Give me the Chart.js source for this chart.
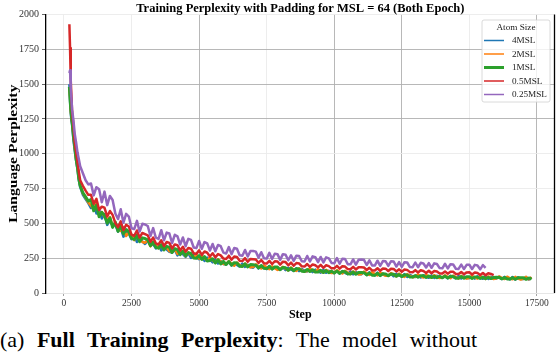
<!DOCTYPE html>
<html>
<head>
<meta charset="utf-8">
<script src="https://cdn.jsdelivr.net/npm/chart.js@4.4.1/dist/chart.umd.min.js"></script>
<style>
  html, body { margin: 0; padding: 0; background: #fff; overflow: hidden; }
  #wrap { position: relative; width: 556px; height: 322px; }
  #caption { position: absolute; left: 0; top: 327px; font-family: "Liberation Serif", "Times New Roman", serif;
             font-size: 22px; white-space: nowrap; color: #000; word-spacing: 7px; }
</style>
</head>
<body>
<div id="wrap"><canvas id="pplChart" width="556" height="322"></canvas></div>
<div id="caption">(a) <b>Full Training Perplexity</b>: The model without</div>
<script>
// ---- data ----
const seriesNames = ['4MSL', '2MSL', '1MSL', '0.5MSL', '0.25MSL'];
const seriesColors = ['#1f77b4', '#ff7f0e', '#2ca02c', '#d62728', '#9467bd'];

// logged steps: a few early ones, then one every 100 steps
const earlySteps = [200, 225, 250, 275, 300, 350, 400, 450, 500, 550, 600, 700, 800, 900];
const logEvery = 100;
const lastStep = 17300;

const xTicks = [0, 2500, 5000, 7500, 10000, 12500, 15000, 17500];
const yTicks = [0, 250, 500, 750, 1000, 1250, 1500, 1750, 2000];
// grid lines that show darker in the picture
const xDarkGrid = [5000, 10000, 12500, 17500];
const yDarkGrid = [250, 500, 1250, 1500, 1750];

const ppl4 = [1500, 1380, 1300, 1240, 1210, 1100, 1020, 950, 890, 810, 760, 705, 675, 645,
  610, 648, 571, 598, 535, 566, 489, 527, 481, 492,
  441, 470, 405, 445, 426, 387, 410, 366, 395, 371,
  352, 378, 339, 351, 320, 347, 306, 331, 312, 296,
  290, 312, 270, 298, 279, 259, 287, 252, 276, 258,
  243, 262, 230, 254, 239, 220, 241, 212, 230, 208,
  204, 226, 198, 214, 201, 190, 211, 188, 203, 186,
  182, 201, 177, 197, 181, 172, 194, 170, 186, 173,
  167, 185, 164, 181, 169, 159, 178, 157, 173, 159,
  155, 172, 150, 168, 156, 146, 166, 145, 160, 147,
  143, 160, 140, 157, 145, 135, 155, 134, 150, 137,
  134, 151, 129, 148, 136, 126, 146, 124, 140, 128,
  124, 140, 120, 138, 127, 117, 136, 115, 131, 118,
  115, 129, 111, 128, 120, 109, 127, 108, 124, 111,
  110, 124, 106, 123, 115, 105, 122, 104, 119, 107,
  107, 121, 103, 120, 112, 102, 119, 101, 116, 104,
  104, 117, 100, 116, 109, 98, 115, 97, 113, 101,
  100, 114, 97, 112];

const ppl2 = [1460, 1410, 1310, 1270, 1230, 1140, 1040, 970, 915, 830, 775, 715, 685, 650,
  628, 601, 650, 559, 582, 548, 520, 545, 478, 503,
  462, 446, 471, 409, 433, 418, 380, 409, 391, 366,
  361, 382, 335, 366, 349, 322, 340, 315, 329, 300,
  296, 317, 280, 303, 294, 265, 290, 273, 256, 275,
  247, 266, 251, 232, 255, 237, 219, 242, 226, 209,
  208, 229, 213, 196, 219, 200, 189, 212, 198, 184,
  186, 206, 190, 176, 199, 183, 171, 192, 178, 166,
  171, 189, 175, 162, 184, 168, 158, 178, 165, 154,
  158, 176, 163, 151, 171, 157, 146, 166, 154, 143,
  146, 164, 151, 140, 160, 146, 136, 155, 143, 133,
  136, 154, 141, 130, 150, 137, 126, 146, 134, 123,
  126, 143, 131, 120, 140, 127, 116, 136, 124, 113,
  117, 133, 121, 111, 130, 119, 109, 128, 116, 107,
  112, 127, 116, 106, 125, 114, 104, 123, 111, 103,
  108, 122, 112, 103, 121, 110, 101, 119, 108, 100,
  105, 119, 109, 100, 117, 106, 98, 116, 104, 97,
  102, 116, 99, 113];

const ppl1 = [1480, 1400, 1320, 1270, 1230, 1130, 1050, 960, 900, 820, 770, 720, 690, 660,
  672, 590, 631, 548, 579, 557, 502, 539, 471, 509,
  443, 487, 425, 456, 441, 392, 385, 414, 368, 396,
  391, 382, 340, 366, 328, 322, 347, 310, 335, 328,
  291, 318, 311, 276, 301, 267, 290, 284, 252, 249,
  268, 241, 262, 229, 233, 246, 215, 238, 209, 227,
  205, 226, 200, 218, 215, 194, 191, 209, 187, 204,
  203, 200, 180, 197, 177, 175, 191, 172, 187, 186,
  167, 184, 181, 163, 178, 160, 175, 173, 157, 155,
  169, 154, 167, 151, 150, 163, 147, 161, 146, 157,
  143, 157, 141, 155, 153, 138, 137, 150, 135, 148,
  147, 146, 130, 143, 128, 127, 141, 125, 138, 137,
  124, 137, 135, 120, 132, 118, 130, 129, 115, 114,
  125, 113, 124, 123, 112, 122, 111, 121, 110, 120,
  109, 121, 108, 120, 119, 107, 106, 118, 106, 117,
  116, 105, 115, 114, 104, 114, 103, 113, 104, 112,
  113, 112, 102, 111, 101, 100, 110, 99, 109, 109,
  109, 98, 108, 100];

const ppl05 = [1930, 1760, 1530, 1420, 1300, 1200, 1080, 1010, 940, 870, 810, 770, 735, 705,
  705, 641, 676, 597, 620, 612, 549, 589, 561, 502,
  472, 515, 452, 490, 478, 418, 411, 449, 398, 431,
  423, 414, 368, 398, 356, 349, 379, 337, 366, 360,
  320, 349, 343, 306, 332, 297, 323, 318, 285, 281,
  306, 274, 298, 289, 262, 285, 256, 279, 270, 247,
  244, 268, 239, 262, 258, 232, 229, 250, 225, 245,
  243, 240, 216, 237, 213, 211, 231, 208, 228, 226,
  204, 225, 222, 199, 218, 196, 215, 212, 192, 190,
  208, 188, 205, 199, 184, 202, 181, 199, 193, 177,
  177, 195, 175, 192, 190, 172, 171, 188, 169, 185,
  185, 183, 165, 181, 163, 162, 178, 160, 176, 175,
  158, 174, 172, 155, 170, 153, 168, 166, 150, 149,
  164, 147, 163, 158, 144, 160, 142, 158, 154, 140,
  140, 155, 139, 153, 152, 137, 136, 150, 135, 148,
  149, 133, 147, 143, 129, 144, 127, 142, 137, 129];

const ppl025 = [1580, 1600, 1470, 1400, 1320, 1240, 1140, 1080, 1010, 960, 910, 860, 810, 780,
  786, 701, 760, 745, 652, 728, 631, 697, 668, 571,
  531, 601, 505, 568, 549, 465, 459, 518, 441, 497,
  492, 481, 409, 466, 397, 388, 451, 379, 434, 427,
  359, 418, 407, 348, 399, 336, 389, 381, 327, 322,
  374, 318, 366, 356, 305, 352, 300, 345, 336, 290,
  284, 330, 279, 323, 318, 271, 268, 309, 262, 302,
  301, 297, 254, 293, 250, 247, 288, 244, 282, 279,
  238, 279, 275, 235, 271, 231, 268, 265, 228, 226,
  266, 226, 263, 257, 222, 259, 219, 256, 249, 216,
  213, 251, 210, 246, 244, 207, 206, 241, 204, 238,
  240, 238, 201, 235, 198, 197, 232, 195, 229, 228,
  194, 228, 226, 190, 222, 188, 221, 219, 186, 185,
  219, 185, 217, 212, 183, 215, 181, 213, 208, 179,
  177, 210, 176, 207, 205, 174, 173, 204, 172, 202,
  203, 172, 202, 197, 170, 200, 181];

const seriesValues = [ppl4, ppl2, ppl1, ppl05, ppl025];

// step list shared by all runs
const steps = earlySteps.slice();
for (let s = 1000; s <= lastStep; s += logEvery) steps.push(s);

const SERIF = '"Liberation Serif", "Times New Roman", serif';
Chart.defaults.font.family = SERIF;
Chart.defaults.color = '#333';

const datasets = seriesNames.map(function (name, i) {
    return {
        label: name,
        data: seriesValues[i].map(function (v, j) { return { x: steps[j], y: v }; }),
        borderColor: seriesColors[i],
        backgroundColor: seriesColors[i],
        borderWidth: name === '1MSL' ? 3 : 2.5,
        borderJoinStyle: 'round',
        pointRadius: 0,
        tension: 0,
        order: seriesNames.length - 1 - i // later series on top, like matplotlib
    };
});

// title, y label, right spine and the boxed legend
const decorPlugin = {
    id: 'decor',
    afterDatasetsDraw(chart) {
        const ctx = chart.ctx;
        const area = chart.chartArea;
        ctx.save();

        // right spine
        ctx.strokeStyle = '#000';
        ctx.lineWidth = 1.3;
        ctx.beginPath();
        ctx.moveTo(area.right, area.top);
        ctx.lineTo(area.right, area.bottom);
        ctx.stroke();

        // title
        ctx.fillStyle = '#000';
        ctx.font = 'bold 12.5px ' + SERIF;
        ctx.textAlign = 'center';
        ctx.textBaseline = 'alphabetic';
        ctx.fillText('Training Perplexity with Padding for MSL = 64 (Both Epoch)', (area.left + area.right) / 2, 11.5);

        // y axis label, stretched along its length as in the picture
        ctx.save();
        ctx.translate(14, (area.top + area.bottom) / 2);
        ctx.rotate(-Math.PI / 2);
        ctx.scale(1.3, 1);
        ctx.font = 'bold 12px ' + SERIF;
        ctx.textBaseline = 'middle';
        ctx.fillText('Language Perplexity', 0, 0);
        ctx.restore();

        // legend box
        const bx = 482, by = 20, bw = 68, bh = 82;
        ctx.fillStyle = 'rgba(255,255,255,0.8)';
        ctx.strokeStyle = '#d0d0d0';
        ctx.lineWidth = 0.8;
        ctx.beginPath();
        ctx.roundRect(bx, by, bw, bh, 2);
        ctx.fill();
        ctx.stroke();

        ctx.fillStyle = '#222';
        ctx.font = '9.2px ' + SERIF;
        ctx.textBaseline = 'middle';
        ctx.fillText('Atom Size', bx + bw / 2, by + 7.5);
        ctx.textAlign = 'left';
        seriesNames.forEach(function (name, i) {
            const y = by + 20.5 + i * 13.5;
            ctx.strokeStyle = seriesColors[i];
            ctx.lineWidth = name === '1MSL' ? 3 : 1.5;
            ctx.beginPath();
            ctx.moveTo(bx + 2, y);
            ctx.lineTo(bx + 22, y);
            ctx.stroke();
            ctx.fillText(name, bx + 30, y + 0.5);
        });
        ctx.restore();
    }
};

function gridColor(darkList) {
    return function (c) {
        if (!c.tick) return '#ebebeb';
        return darkList.indexOf(c.tick.value) >= 0 ? '#b0b0b0' : '#ebebeb';
    };
}

new Chart(document.getElementById('pplChart'), {
    type: 'line',
    data: { datasets: datasets },
    plugins: [decorPlugin],
    options: {
        responsive: false,
        animation: false,
        layout: { padding: { top: 14.5, right: 1.5, left: 0, bottom: 0 } },
        plugins: { legend: { display: false }, tooltip: { enabled: false } },
        scales: {
            x: {
                type: 'linear',
                min: -665,
                max: 18150,
                afterFit: function (scale) { scale.height = 29; },
                afterBuildTicks: function (scale) { scale.ticks = xTicks.map(function (v) { return { value: v }; }); },
                ticks: { font: { size: 9.5 }, padding: 2, maxRotation: 0, color: '#333',
                         callback: function (v) { return String(v); } },
                grid: { color: gridColor(xDarkGrid), lineWidth: 0.9, tickLength: 3, tickColor: '#999' },
                border: { color: '#e6e6e6', width: 1 },
                title: { display: true, text: 'Step', font: { size: 12, weight: 'bold' }, color: '#000', padding: { top: 0, bottom: 0 } }
            },
            y: {
                min: 0,
                max: 2000,
                afterFit: function (scale) { scale.width = 46; },
                afterBuildTicks: function (scale) { scale.ticks = yTicks.map(function (v) { return { value: v }; }); },
                ticks: { font: { size: 10 }, padding: 3, color: '#333',
                         callback: function (v) { return String(v); } },
                grid: { color: gridColor(yDarkGrid), lineWidth: 0.9, tickLength: 4, tickColor: '#555' },
                border: { color: '#000', width: 1.3 },
                title: { display: false }
            }
        }
    }
});
</script>
</body>
</html>
